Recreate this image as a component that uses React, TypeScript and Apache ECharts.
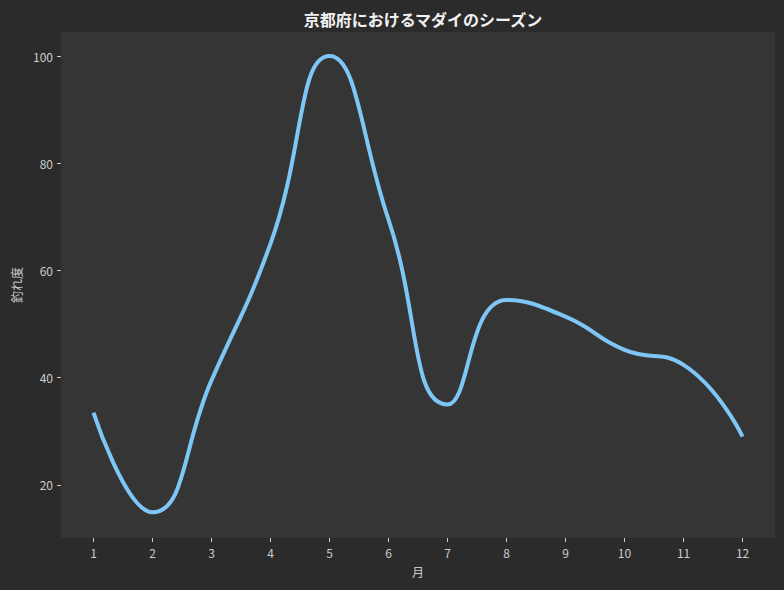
import { useEffect, useRef } from "react";
import * as echarts from "echarts";

const months = [1, 2, 3, 4, 5, 6, 7, 8, 9, 10, 11, 12];
const catchScore = [33.5, 14.9, 39.5, 65, 100, 69.5, 35, 54.5, 51.4, 45.2, 42.4, 29];
const xTicks = [1, 2, 3, 4, 5, 6, 7, 8, 9, 10, 11, 12];
const yTicks = [20, 40, 60, 80, 100];

const FONT = "'Noto Sans CJK JP', 'Noto Sans', sans-serif";

function buildOption(): echarts.EChartsOption {
  return {
    animation: false,
    backgroundColor: "#2b2b2b",
    title: {
      text: "京都府におけるマダイのシーズン",
      left: 418,
      top: 6,
      textAlign: "center",
      textStyle: { color: "#f2f2f2", fontSize: 16, fontWeight: "bold", fontFamily: FONT },
    },
    grid: {
      left: 61,
      right: 9,
      top: 32,
      bottom: 52,
      show: true,
      backgroundColor: "#353535",
      borderWidth: 0,
    },
    xAxis: {
      type: "value",
      min: 0.45,
      max: 12.55,
      name: "月",
      nameLocation: "middle",
      nameGap: 27,
      nameTextStyle: { color: "#cccccc", fontSize: 12, fontFamily: FONT },
      axisLine: { show: false },
      axisTick: { show: true, customValues: xTicks, length: 4, lineStyle: { color: "#cccccc" } },
      axisLabel: { customValues: xTicks, color: "#cccccc", fontSize: 12, margin: 8, fontFamily: FONT },
      splitLine: { show: false },
    },
    yAxis: {
      type: "value",
      min: 10.1,
      max: 104.5,
      name: "釣れ度",
      nameLocation: "middle",
      nameGap: 38,
      nameRotate: 90,
      nameTextStyle: { color: "#cccccc", fontSize: 12, fontFamily: FONT },
      axisLine: { show: false },
      axisTick: { show: true, customValues: yTicks, length: 4, lineStyle: { color: "#cccccc" } },
      axisLabel: { customValues: yTicks, color: "#cccccc", fontSize: 12, margin: 8, fontFamily: FONT },
      splitLine: { show: false },
    },
    series: [
      {
        type: "line",
        data: months.map((m, i) => [m, catchScore[i]]),
        smooth: 0.5,
        smoothConstraint: false,
        showSymbol: false,
        symbol: "none",
        lineStyle: { color: "#7ec6f6", width: 4, cap: "butt" },
      },
    ],
  };
}

export default function App() {
  const el = useRef<HTMLDivElement>(null);

  useEffect(() => {
    if (!el.current) return;
    const chart = echarts.init(el.current, undefined, { renderer: "svg" });
    chart.setOption(buildOption());
    return () => { chart.dispose(); };
  }, []);

  return (
    <div style={{ position: "fixed", left: 0, top: 0, width: 784, height: 590 }}>
      <div ref={el} style={{ width: 784, height: 590 }} />
    </div>
  );
}
